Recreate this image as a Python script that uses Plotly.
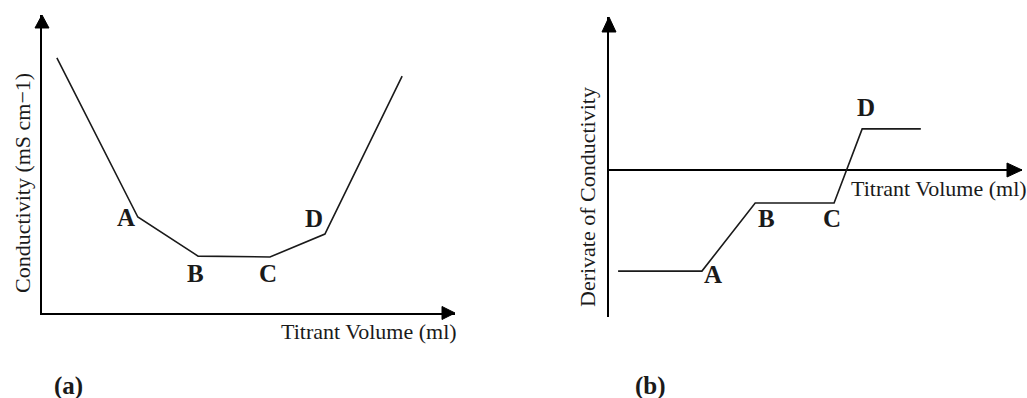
import plotly.graph_objects as go

W, H = 1027, 398

# (a) conductometric titration curve
volume_a = [0.36, 2.32, 3.78, 5.52, 6.85, 8.72]
conductivity = [8.56, 3.22, 1.91, 1.88, 2.65, 7.95]

# (b) first derivative of the conductivity
volume_b = [0.22, 2.25, 3.54, 5.45, 6.13, 7.55]
derivative = [-3.37, -3.37, -1.10, -1.10, 1.37, 1.37]

# break-point labels: (index into series, xshift, yshift) in pixels
points = ["A", "B", "C", "D"]
label_a = {"A": (1, -12, 0), "B": (2, -3, -17), "C": (3, -2, -17), "D": (4, -11, 16)}
label_b = {"A": (1, 11, -3), "B": (2, 11, -15), "C": (3, -2, -15), "D": (4, 4, 21)}

SERIF = "Liberation Serif"
INK = "#1a1a1a"


def px(x):
    return x / W


def py(y):
    return 1 - y / H


# panel frames in pixels: (left, right, bottom, top)
A_BOX = (42, 455, 313, 15)
B_BOX = (609, 1022, 317, 17)

fig = go.Figure()

fig.add_trace(go.Scatter(x=volume_a, y=conductivity, mode="lines",
                         line=dict(color=INK, width=1.6),
                         xaxis="x", yaxis="y", showlegend=False, hoverinfo="skip"))
fig.add_trace(go.Scatter(x=volume_b, y=derivative, mode="lines",
                         line=dict(color=INK, width=1.6),
                         xaxis="x2", yaxis="y2", showlegend=False, hoverinfo="skip"))

hidden = dict(showgrid=False, showticklabels=False, ticks="", zeroline=False,
              fixedrange=True)

fig.update_layout(
    width=W, height=H,
    margin=dict(l=0, r=0, t=0, b=0),
    paper_bgcolor="white", plot_bgcolor="white",
    xaxis=dict(domain=[px(A_BOX[0]), px(A_BOX[1])], range=[0, 10],
               showline=True, linecolor="black", linewidth=2,
               anchor="y", **hidden),
    yaxis=dict(domain=[py(A_BOX[2]), py(A_BOX[3])], range=[0, 10],
               showline=True, linecolor="black", linewidth=2,
               anchor="x", **hidden),
    xaxis2=dict(domain=[px(B_BOX[0]), px(B_BOX[1])], range=[0, 10],
                showline=False, anchor="y2", **hidden),
    yaxis2=dict(domain=[py(B_BOX[2]), py(B_BOX[3])], range=[-4.9, 5.1],
                showline=True, linecolor="black", linewidth=2,
                anchor="x2", showgrid=False, showticklabels=False, ticks="",
                zeroline=True, zerolinecolor="black", zerolinewidth=2,
                fixedrange=True),
)


def arrow_head(tx, ty, direction, length=14, half=7):
    """Filled triangular arrow head with its tip at pixel (tx, ty)."""
    if direction == "up":
        pts = [(tx, ty), (tx - half, ty + length), (tx + half, ty + length)]
    else:
        pts = [(tx, ty), (tx - length, ty - half), (tx - length, ty + half)]
    path = "M" + " L".join(f"{px(a):.5f},{py(b):.5f}" for a, b in pts) + " Z"
    return dict(type="path", xref="paper", yref="paper", path=path,
                fillcolor="black", line=dict(color="black", width=1))


zero_b = 170
fig.update_layout(shapes=[
    arrow_head(A_BOX[0], A_BOX[3], "up", 13, 7),
    arrow_head(A_BOX[1], A_BOX[2], "right", 13, 6.5),
    arrow_head(B_BOX[0], B_BOX[3], "up", 15, 7),
    arrow_head(B_BOX[1], zero_b, "right", 15, 7),
])

ann = []


def text(x, y, s, size=22, bold=False, angle=0, xanchor="center"):
    ann.append(dict(x=px(x), y=py(y), xref="paper", yref="paper", text=s,
                    showarrow=False, textangle=angle, xanchor=xanchor,
                    yanchor="middle",
                    font=dict(family=SERIF, size=size, color=INK,
                              weight="bold" if bold else "normal")))


# axis titles
text(22, 183, "Conductivity (mS cm\u22121)", angle=-90)
text(279, 331, "Titrant Volume (ml)", xanchor="left")
text(587, 197, "Derivate of Conductivity", angle=-90)
text(849, 188, "Titrant Volume (ml)", xanchor="left")

# panel tags
text(68, 386, "(a)", size=25, bold=True)
text(650, 386, "(b)", size=25, bold=True)

# break-point labels tied to the curve vertices
LABEL_FONT = dict(family=SERIF, size=25, color=INK, weight="bold")
for name in points:
    i, dx, dy = label_a[name]
    ann.append(dict(x=volume_a[i], y=conductivity[i], xref="x", yref="y",
                    text=name, showarrow=False, xshift=dx, yshift=dy,
                    font=LABEL_FONT))
    i, dx, dy = label_b[name]
    ann.append(dict(x=volume_b[i], y=derivative[i], xref="x2", yref="y2",
                    text=name, showarrow=False, xshift=dx, yshift=dy,
                    font=LABEL_FONT))

fig.update_layout(annotations=ann)

fig.write_html("out.html")
